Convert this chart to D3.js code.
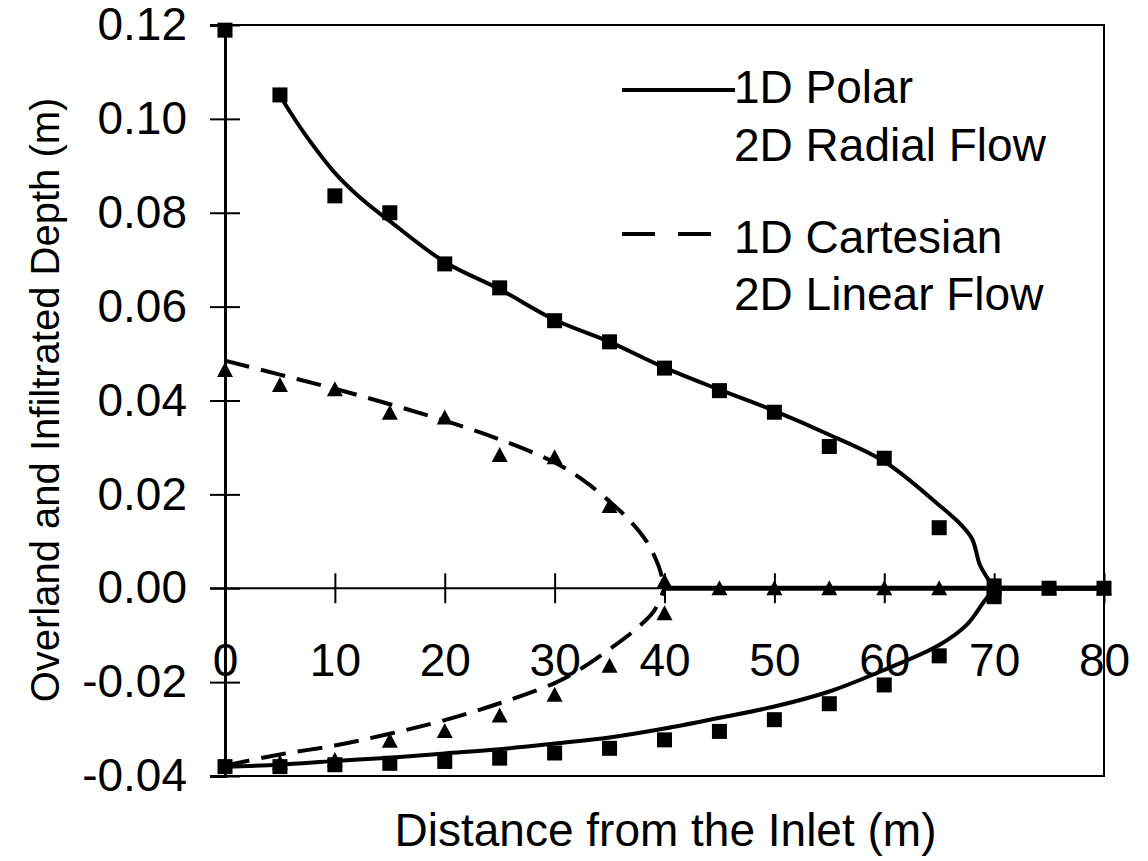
<!DOCTYPE html>
<html>
<head>
<meta charset="utf-8">
<script src="https://cdn.jsdelivr.net/npm/d3@7"></script>
<style>
  body { margin: 0; background: #fff; }
  text { font-family: "Liberation Sans", Arial, sans-serif; fill: #000; }
</style>
</head>
<body>
<script>
// Tick values of the two axes
var xTicks = [0, 10, 20, 30, 40, 50, 60, 70, 80];
var yTicks = [-0.04, -0.02, 0.00, 0.02, 0.04, 0.06, 0.08, 0.10, 0.12];

// 2D Radial Flow (squares), surface depth and infiltrated depth
var radialTopX = [0, 5, 10, 15, 20, 25, 30, 35, 40, 45, 50, 55, 60, 65, 70, 75, 80];
var radialTopY = [0.1189, 0.1051, 0.0836, 0.0800, 0.0691, 0.0640, 0.0570, 0.0525, 0.0469, 0.0421, 0.0375, 0.0302, 0.0277, 0.0129, 0.0005, 0, 0];
var radialBottomX = [0, 5, 10, 15, 20, 25, 30, 35, 40, 45, 50, 55, 60, 65, 70];
var radialBottomY = [-0.0380, -0.0380, -0.0376, -0.0373, -0.0369, -0.0362, -0.0351, -0.0341, -0.0323, -0.0305, -0.0280, -0.0246, -0.0206, -0.0144, -0.0018];

// 2D Linear Flow (triangles)
var linearTopX = [0, 5, 10, 15, 20, 25, 30, 35, 40, 45, 50, 55, 60, 65, 70, 75, 80];
var linearTopY = [0.0465, 0.0433, 0.0424, 0.0374, 0.0364, 0.0284, 0.0279, 0.0175, 0.0015, 0, 0, 0, 0, 0, 0, 0, 0];
var linearBottomX = [5, 10, 15, 20, 25, 30, 35, 40];
var linearBottomY = [-0.0372, -0.0366, -0.0325, -0.0304, -0.0271, -0.0227, -0.0165, -0.0053];

// 1D Polar (solid line)
var polarTopX = [5, 6, 7.5, 10, 12.5, 15, 20, 25, 30, 35, 40, 45, 50, 55, 60, 65, 67, 68, 68.7, 69.3, 70];
var polarTopY = [0.1050, 0.1012, 0.0960, 0.0885, 0.0828, 0.0782, 0.0695, 0.0637, 0.0572, 0.0525, 0.0470, 0.0423, 0.0378, 0.0327, 0.0270, 0.0177, 0.0135, 0.0105, 0.0050, 0.0025, 0];
var polarBottomX = [0, 5, 10, 15, 20, 25, 30, 35, 40, 45, 50, 55, 60, 65, 67.5, 69, 70];
var polarBottomY = [-0.0380, -0.0376, -0.0368, -0.0361, -0.0352, -0.0343, -0.0331, -0.0318, -0.0299, -0.0276, -0.0252, -0.0220, -0.0174, -0.0121, -0.0078, -0.0031, 0];
var polarTailX = [70, 80];
var polarTailY = [0, 0];

// 1D Cartesian (dashed line)
var cartTopX = [0, 5, 10, 15, 20, 25, 30, 32.5, 35, 37, 38.5, 39.5, 40];
var cartTopY = [0.0485, 0.0455, 0.0425, 0.0392, 0.0357, 0.0317, 0.0268, 0.0232, 0.0185, 0.0140, 0.0095, 0.0045, 0];
var cartBottomX = [0, 5, 10, 15, 20, 25, 30, 32.5, 35, 37.5, 39, 40];
var cartBottomY = [-0.0378, -0.0354, -0.0335, -0.0310, -0.0281, -0.0245, -0.0202, -0.0170, -0.0130, -0.0085, -0.0050, 0];
var cartTailX = [40, 80];
var cartTailY = [0, 0];

var legendLabels = ["1D Polar", "2D Radial Flow", "1D Cartesian", "2D Linear Flow"];

function zip(xs, ys) {
  return xs.map(function (d, i) { return [d, ys[i]]; });
}

var width = 1148, height = 861;
var plot = { left: 225, right: 1104, top: 25, bottom: 776 };

var svg = d3.select("body").append("svg")
  .attr("width", width)
  .attr("height", height);

var x = d3.scaleLinear().domain([0, 80]).range([plot.left, plot.right]);
var y = d3.scaleLinear().domain([-0.04, 0.12]).range([plot.bottom, plot.top]);

// Plot frame
svg.append("rect")
  .attr("x", plot.left)
  .attr("y", plot.top)
  .attr("width", plot.right - plot.left)
  .attr("height", plot.bottom - plot.top)
  .attr("fill", "none")
  .attr("stroke", "#000")
  .attr("stroke-width", 2);

// Y axis with ticks crossing the line
var yAxis = svg.append("g")
  .attr("transform", "translate(" + plot.left + ",0)")
  .call(d3.axisLeft(y).tickValues(yTicks).tickSize(15)
    .tickFormat(function (d) { return d3.format(".2f")(d).replace("\u2212", "-"); }));
yAxis.select(".domain").attr("stroke-width", 3);
yAxis.selectAll(".tick line").attr("x1", 15).attr("x2", -15).attr("stroke-width", 2);
yAxis.selectAll(".tick text")
  .attr("x", -38)
  .style("font-size", "46px")
  .style("font-family", "'Liberation Sans', Arial, sans-serif");

// X axis sits on the zero line
var xAxis = svg.append("g")
  .attr("transform", "translate(0," + y(0) + ")")
  .call(d3.axisBottom(x).tickValues(xTicks).tickSize(15).tickFormat(d3.format("d")));
xAxis.select(".domain").attr("d", "M" + (plot.left - 15) + ",0H" + plot.right).attr("stroke-width", 2);
xAxis.selectAll(".tick line").attr("y1", -15).attr("y2", 15).attr("stroke-width", 2);
xAxis.selectAll(".tick text")
  .attr("y", 55)
  .style("font-size", "46px")
  .style("font-family", "'Liberation Sans', Arial, sans-serif");

// Axis titles
svg.append("text")
  .attr("x", (plot.left + plot.right) / 2 + 1)
  .attr("y", 846)
  .attr("text-anchor", "middle")
  .style("font-size", "46px")
  .text("Distance from the Inlet (m)");

svg.append("text")
  .attr("transform", "translate(59,400) rotate(-90)")
  .attr("text-anchor", "middle")
  .style("font-size", "40px")
  .text("Overland and Infiltrated Depth (m)");

var line = d3.line()
  .x(function (d) { return x(d[0]); })
  .y(function (d) { return y(d[1]); })
  .curve(d3.curveCatmullRom.alpha(0.5));

function drawLine(data, dashed, w) {
  svg.append("path")
    .datum(data)
    .attr("d", line)
    .attr("fill", "none")
    .attr("stroke", "#000")
    .attr("stroke-width", w)
    .attr("stroke-dasharray", dashed ? "25,12" : null);
}

drawLine(zip(cartTopX, cartTopY), true, 4);
drawLine(zip(cartBottomX, cartBottomY), true, 4);
drawLine(zip(cartTailX, cartTailY), false, 5);
drawLine(zip(polarTopX, polarTopY), false, 4);
drawLine(zip(polarBottomX, polarBottomY), false, 4);
drawLine(zip(polarTailX, polarTailY), false, 5);

// Markers
function drawSquares(data) {
  svg.append("g").selectAll("rect")
    .data(data)
    .join("rect")
    .attr("x", function (d) { return x(d[0]) - 7.5; })
    .attr("y", function (d) { return y(d[1]) - 7.5; })
    .attr("width", 15)
    .attr("height", 15)
    .attr("fill", "#000");
}

function drawTriangles(data) {
  svg.append("g").selectAll("path")
    .data(data)
    .join("path")
    .attr("transform", function (d) { return "translate(" + x(d[0]) + "," + y(d[1]) + ")"; })
    .attr("d", "M0,-8L8,7L-8,7Z")
    .attr("fill", "#000");
}

drawTriangles(zip(linearTopX, linearTopY));
drawTriangles(zip(linearBottomX, linearBottomY));
drawSquares(zip(radialTopX, radialTopY));
drawSquares(zip(radialBottomX, radialBottomY));

// Legend
svg.append("line")
  .attr("x1", 622).attr("x2", 735)
  .attr("y1", 90).attr("y2", 90)
  .attr("stroke", "#000").attr("stroke-width", 4);
svg.append("line")
  .attr("x1", 622).attr("x2", 716)
  .attr("y1", 234).attr("y2", 234)
  .attr("stroke", "#000").attr("stroke-width", 4)
  .attr("stroke-dasharray", "33,23");

var legendBaselines = [103, 161, 253, 310];
svg.append("g").selectAll("text")
  .data(legendLabels)
  .join("text")
  .attr("x", 734)
  .attr("y", function (d, i) { return legendBaselines[i]; })
  .style("font-size", "46px")
  .text(function (d) { return d; });
</script>
</body>
</html>
